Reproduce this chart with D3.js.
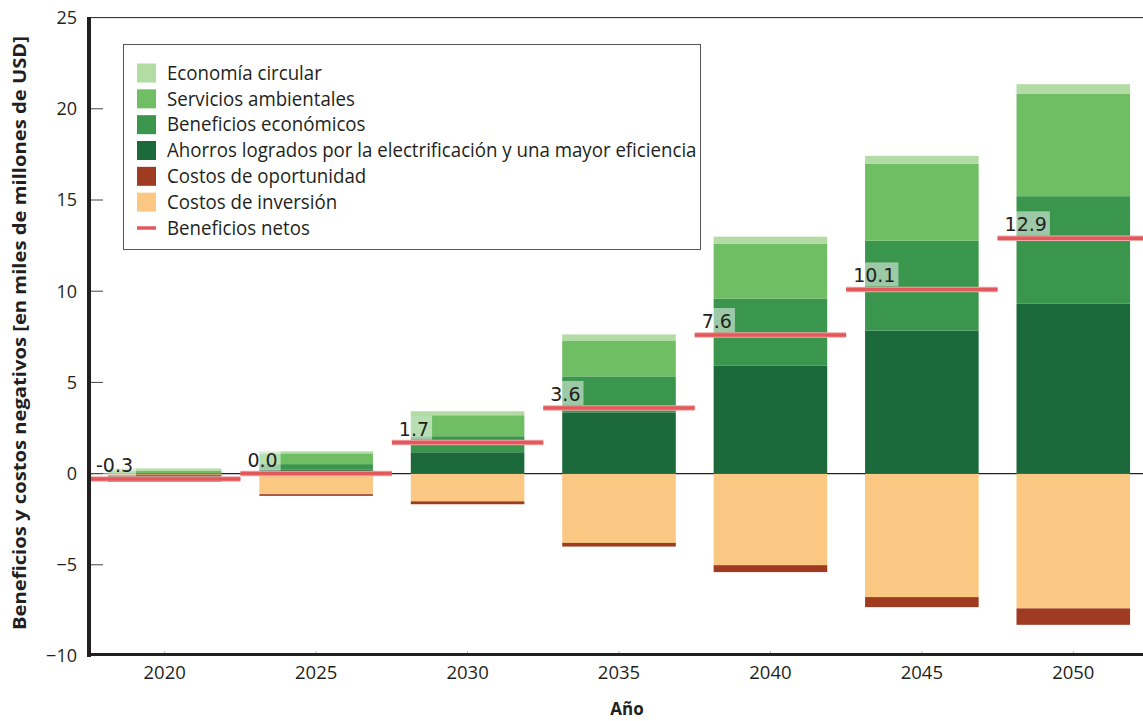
<!DOCTYPE html>
<html><head><meta charset="utf-8">
<script src="https://cdn.jsdelivr.net/npm/d3@7"></script>
<style>body{margin:0;background:#fff;} svg{display:block}</style>
</head><body><svg id="c" width="1143" height="721"></svg>
<script>
// ---- data ----
const years = ["2020","2025","2030","2035","2040","2045","2050"];
const economiaCircular     = [0.13, 0.11, 0.22, 0.33, 0.38, 0.44, 0.54];
const serviciosAmbientales = [0.13, 0.59, 1.15, 1.97, 3.01, 4.21, 5.60];
const beneficiosEconomicos = [0.02, 0.29, 0.88, 1.97, 3.67, 4.93, 5.90];
const ahorrosElectrificacion = [-0.34, 0.23, 1.17, 3.36, 5.93, 7.84, 9.31];
const costosOportunidad    = [-0.06, -0.09, -0.16, -0.20, -0.38, -0.55, -0.90];
const costosInversion      = [-0.06, -1.13, -1.52, -3.80, -5.02, -6.77, -7.39];
const beneficiosNetos      = [-0.3, 0.0, 1.7, 3.6, 7.6, 10.1, 12.9];
const netLabels            = ["-0.3","0.0","1.7","3.6","7.6","10.1","12.9"];
const yTicks = [-10, -5, 0, 5, 10, 15, 20, 25];
const yTickLabels = ["\u221210","\u22125","0","5","10","15","20","25"];

const seriesNames = {
  inv: "Costos de inversión",
  opo: "Costos de oportunidad",
  aho: "Ahorros logrados por la electrificación y una mayor eficiencia",
  ben: "Beneficios económicos",
  ser: "Servicios ambientales",
  eco: "Economía circular",
  net: "Beneficios netos"
};
const colors = {
  eco: "#b3dba4", ser: "#6fbe64", ben: "#3a954d", aho: "#1c6a3b",
  opo: "#9e3b20", inv: "#fbc884", net: "#e2585b"
};

const table = years.map((yr, i) => ({
  year: yr,
  inv: costosInversion[i], opo: costosOportunidad[i], aho: ahorrosElectrificacion[i],
  ben: beneficiosEconomicos[i], ser: serviciosAmbientales[i], eco: economiaCircular[i]
}));
const stackKeys = ["inv","opo","aho","ben","ser","eco"];
const stacked = d3.stack().keys(stackKeys).offset(d3.stackOffsetDiverging)(table);

// ---- layout ----
const svg = d3.select("#c");
const pL = 89, pR = 1149, pT = 17.6, pB = 656;
const x = d3.scaleBand().domain(years).range([pL, pR]).paddingInner(0.25).paddingOuter(0.125);
const y = d3.scaleLinear().domain([-10, 25]).range([pB, pT]);
const axisFont = "'Open Sans', 'Noto Sans', sans-serif";

// zero line
svg.append("line").attr("x1", pL).attr("x2", 1143).attr("y1", y(0)).attr("y2", y(0))
  .attr("stroke", "#222").attr("stroke-width", 1.2);

// bars
svg.append("g").selectAll("g").data(stacked).join("g")
  .attr("fill", d => colors[d.key])
  .selectAll("rect").data(d => d).join("rect")
  .attr("x", d => x(d.data.year))
  .attr("width", x.bandwidth())
  .attr("y", d => y(Math.max(d[0], d[1])))
  .attr("height", d => Math.abs(y(d[0]) - y(d[1])));

// net benefit lines
const step = x.step();
const netG = svg.append("g");
years.forEach((yr, i) => {
  const cx = x(yr) + x.bandwidth() / 2;
  const yy = y(beneficiosNetos[i]);
  netG.append("line").attr("x1", cx - step / 2).attr("x2", cx + step / 2)
    .attr("y1", yy).attr("y2", yy).attr("stroke", "#f2a7a8").attr("stroke-width", 5.5);
  netG.append("line").attr("x1", cx - step / 2).attr("x2", cx + step / 2)
    .attr("y1", yy).attr("y2", yy).attr("stroke", colors.net).attr("stroke-width", 3.5);
  const tx = cx - step / 2 + 7;
  const t = netG.append("text").attr("x", tx).attr("y", yy - 7)
    .attr("font-family", "'DejaVu Sans', sans-serif").attr("font-size", 19)
    .attr("fill", "#222").text(netLabels[i]);
  const w = t.node().getComputedTextLength();
  netG.insert("rect", () => t.node()).attr("x", tx - 3).attr("y", yy - 27)
    .attr("width", w + 6).attr("height", 24).attr("fill", "#fff").attr("fill-opacity", 0.5);
});

// top frame line
svg.append("line").attr("x1", pL).attr("x2", 1143).attr("y1", pT).attr("y2", pT)
  .attr("stroke", "#222").attr("stroke-width", 1);
// y ticks (inward)
svg.append("g").selectAll("line").data(yTicks.filter(v => v > -10 && v < 25)).join("line")
  .attr("x1", pL).attr("x2", pL + 14).attr("y1", d => y(d)).attr("y2", d => y(d))
  .attr("stroke", "#444").attr("stroke-width", 1);
svg.append("g").selectAll("text").data(yTicks).join("text")
  .attr("x", 77).attr("y", d => y(d)).attr("dy", "0.35em").attr("text-anchor", "end")
  .attr("font-family", axisFont).attr("font-size", 18).attr("fill", "#231f20")
  .text((d, i) => yTickLabels[i]);
// x ticks
svg.append("g").selectAll("line").data(years).join("line")
  .attr("x1", d => x(d) + x.bandwidth() / 2).attr("x2", d => x(d) + x.bandwidth() / 2)
  .attr("y1", pB - 2).attr("y2", pB - 5).attr("stroke", "#bbb").attr("stroke-width", 1);
svg.append("g").selectAll("text").data(years).join("text")
  .attr("x", d => x(d) + x.bandwidth() / 2).attr("y", 679).attr("text-anchor", "middle")
  .attr("font-family", axisFont).attr("font-size", 18.5).attr("fill", "#231f20").text(d => d);
// axis lines
svg.append("line").attr("x1", pL).attr("x2", pL).attr("y1", pT - 0.5).attr("y2", pB + 1)
  .attr("stroke", "#231f20").attr("stroke-width", 4);
svg.append("line").attr("x1", pL - 2).attr("x2", 1143).attr("y1", pB - 1.5).attr("y2", pB - 1.5)
  .attr("stroke", "#231f20").attr("stroke-width", 3);

// axis titles
svg.append("text").attr("x", 627).attr("y", 715).attr("text-anchor", "middle")
  .attr("font-family", axisFont).attr("font-weight", "bold").attr("font-size", 17)
  .attr("fill", "#231f20").text("Año");
const yt = svg.append("text").attr("transform", "translate(26,333) rotate(-90)")
  .attr("text-anchor", "middle").attr("font-family", axisFont).attr("font-weight", "bold")
  .attr("font-size", 18.5).attr("fill", "#231f20")
  .text("Beneficios y costos negativos [en miles de millones de USD]");
yt.attr("textLength", 594).attr("lengthAdjust", "spacingAndGlyphs");

// legend
const legendOrder = ["eco","ser","ben","aho","opo","inv","net"];
const lg = svg.append("g");
lg.append("rect").attr("x", 123.5).attr("y", 44.5).attr("width", 577).attr("height", 205)
  .attr("fill", "#fff").attr("stroke", "#555").attr("stroke-width", 1);
const rowY = d3.scalePoint().domain(legendOrder).range([73, 228]);
const textG = lg.append("g");
legendOrder.forEach(k => {
  const cy = rowY(k);
  if (k === "net") {
    lg.append("line").attr("x1", 137).attr("x2", 156).attr("y1", cy).attr("y2", cy)
      .attr("stroke", colors.net).attr("stroke-width", 3.5);
  } else {
    lg.append("rect").attr("x", 137).attr("y", cy - 9.5).attr("width", 19).attr("height", 19)
      .attr("fill", colors[k]);
  }
  textG.append("text").attr("x", 0).attr("y", cy).attr("dy", "0.35em")
    .attr("font-family", axisFont).attr("font-size", 19.5).attr("fill", "#231f20")
    .text(seriesNames[k]);
});
let maxW = 0;
textG.selectAll("text").each(function(){ maxW = Math.max(maxW, this.getComputedTextLength()); });
const f = Math.min(1, 530 / maxW);
textG.attr("transform", `translate(167,0) scale(${f},1)`);
</script>
</body></html>
